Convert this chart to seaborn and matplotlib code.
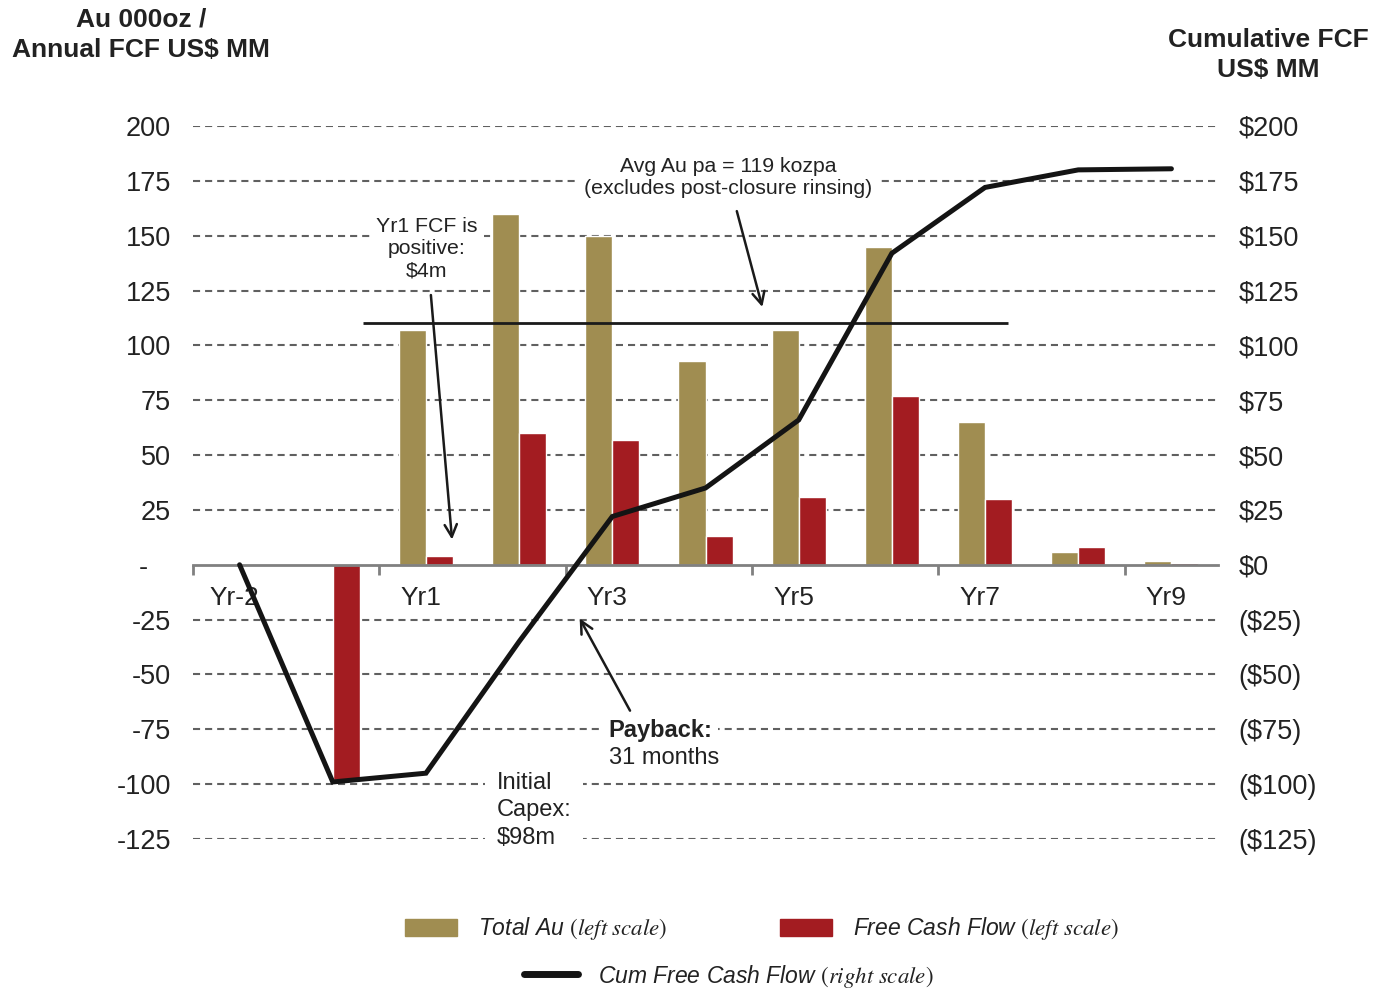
import numpy as np
import pandas as pd
import matplotlib
matplotlib.use("Agg")
import matplotlib.pyplot as plt
import matplotlib.transforms as mtransforms
from matplotlib.patches import Patch
from matplotlib.lines import Line2D
import seaborn as sns

# ---- data -------------------------------------------------------------
years = ["Yr-2", "Yr-1", "Yr1", "Yr2", "Yr3", "Yr4", "Yr5", "Yr6", "Yr7", "Yr8", "Yr9"]
total_au = [np.nan, np.nan, 107, 160, 150, 93, 107, 145, 65, 6, 1.5]      # Au 000oz
free_cash_flow = [np.nan, -98, 4, 60, 57, 13, 31, 77, 30, 8, 1]          # US$ MM
cum_fcf = [0, -99, -95, -35, 22, 35, 66, 142, 172, 180, 180.5]            # US$ MM
avg_au_line = 110
left_ticks = [-125, -100, -75, -50, -25, 0, 25, 50, 75, 100, 125, 150, 175, 200]
left_labels = ["-125", "-100", "-75", "-50", "-25", "-   ", "25", "50", "75", "100",
               "125", "150", "175", "200"]
right_labels = ["($125)", "($100)", "($75)", "($50)", "($25)", "\\$0", "\\$25", "\\$50",
                "\\$75", "\\$100", "\\$125", "\\$150", "\\$175", "\\$200"]
shown_years = ["Yr-2", "Yr1", "Yr3", "Yr5", "Yr7", "Yr9"]

OLIVE = "#A08D51"
RED = "#A31C21"
GRID = "#606060"
AXIS = "#808080"
TEXT = "#222222"

sns.set_theme(style="white")
plt.rcParams["font.family"] = ["Liberation Sans", "DejaVu Sans"]
plt.rcParams["mathtext.fontset"] = "stix"

df = pd.DataFrame({
    "year": years * 2,
    "value": total_au + free_cash_flow,
    "series": ["Total Au"] * len(years) + ["Free Cash Flow"] * len(years),
})

fig = plt.figure(figsize=(13.89, 9.90), dpi=100)
ax = fig.add_axes([193 / 1389, 151 / 990, 1025 / 1389, 713 / 990])

sns.barplot(data=df, x="year", y="value", hue="series", order=years,
            hue_order=["Total Au", "Free Cash Flow"],
            palette={"Total Au": OLIVE, "Free Cash Flow": RED},
            width=0.58, gap=0, saturation=1, legend=False, ax=ax, zorder=2)

ax.set_xlim(-0.5, len(years) - 0.5)
ax.set_ylim(-125, 200)
ax.set_xlabel("")
ax.set_ylabel("")

# dashed gridlines at every 25 except the zero line
for v in left_ticks:
    if v != 0:
        ax.axhline(v, color=GRID, lw=1.5, linestyle=(0, (3.4, 2.4)), zorder=0.5)

for s in ["top", "right", "left"]:
    ax.spines[s].set_visible(False)
ax.spines["bottom"].set_position(("data", 0))
ax.spines["bottom"].set_color(AXIS)
ax.spines["bottom"].set_linewidth(2.0)
ax.spines["bottom"].set_zorder(3)

# x axis: boundary tick marks every two years, labels on alternate year centres
ax.set_xticks(np.arange(-0.5, len(years) - 1, 2))
ax.set_xticklabels([])
ax.tick_params(axis="x", which="major", direction="out", length=7, width=2.0, color=AXIS,
               bottom=True)
ax.set_xticks([years.index(y) for y in shown_years], minor=True)
ax.set_xticklabels(shown_years, minor=True, fontsize=19, color=TEXT)
ax.tick_params(axis="x", which="minor", length=0, pad=15)
shift = mtransforms.ScaledTranslation(-5 / 100, 0, fig.dpi_scale_trans)
for lbl in ax.get_xticklabels(minor=True):
    lbl.set_transform(lbl.get_transform() + shift)

ax.set_yticks(left_ticks)
ax.set_yticklabels(left_labels, fontsize=19.5, color=TEXT)
ax.tick_params(axis="y", length=0, pad=16, left=False)

# average gold production reference line
ax.hlines(avg_au_line, 1.32, 8.25, color="#1a1a1a", lw=2.0, zorder=3)

# right axis: cumulative free cash flow
ax2 = ax.twinx()
ax2.set_ylim(ax.get_ylim())
ax2.set_xlim(ax.get_xlim())
sns.lineplot(x=np.arange(len(years)), y=cum_fcf, color="#141414", lw=3.6, ax=ax2,
             solid_joinstyle="miter")
for s in ax2.spines.values():
    s.set_visible(False)
ax2.set_yticks(left_ticks)
ax2.set_yticklabels(right_labels, fontsize=19.5, color=TEXT)
ax2.tick_params(axis="y", length=0, pad=15, right=False)
ax2.set_ylabel("")

# annotations
box = dict(boxstyle="square,pad=0.3", fc="white", ec="none")
arrow = dict(arrowstyle="->", color="#1a1a1a", lw=1.8, mutation_scale=22)

ax.annotate("Avg Au pa = 119 kozpa\n(excludes post-closure rinsing)",
            xy=(5.61, 117.5), xytext=(5.24, 176.5), ha="center", va="center",
            fontsize=15.3, color=TEXT, linespacing=1.2, bbox=box,
            arrowprops=dict(arrow, shrinkA=5, shrinkB=0), zorder=4)

ax.annotate("Yr1 FCF is\npositive:\n$4m".replace("$", "\\$"),
            xy=(2.28, 11.5), xytext=(2.01, 144), ha="center", va="center",
            fontsize=15.3, color=TEXT, linespacing=1.2, bbox=box,
            arrowprops=dict(arrow, shrinkA=6, shrinkB=0), zorder=4)

ax.text(3.96, -75.5, "Payback:", ha="left", va="center", fontsize=17,
        fontweight="bold", color=TEXT, zorder=4,
        bbox=dict(boxstyle="square,pad=0.25", fc="white", ec="none"))
ax.text(3.96, -88, "31 months", ha="left", va="center", fontsize=17,
        color=TEXT, zorder=4)
ax.annotate("", xy=(3.65, -24.5), xytext=(4.19, -66.5),
            arrowprops=dict(arrow, shrinkA=0, shrinkB=0), zorder=4)

ax.text(2.76, -112, "Initial\nCapex:\n\\$98m", ha="left", va="center", fontsize=17,
        color=TEXT, linespacing=1.32, zorder=4,
        bbox=dict(boxstyle="square,pad=0.5", fc="white", ec="none"))

# axis titles
fig.text(141 / 1389, 1 - 35 / 990, "Au 000oz /\nAnnual FCF US\\$ MM", ha="center",
         va="center", fontsize=19, fontweight="bold", color=TEXT, linespacing=1.32)
fig.text(1268 / 1389, 1 - 55 / 990, "Cumulative FCF\nUS\\$ MM", ha="center",
         va="center", fontsize=19, fontweight="bold", color=TEXT, linespacing=1.32)

# legend
lab_au = "Total Au $\\mathit{(left\\ scale)}$"
lab_fcf = "Free Cash Flow $\\mathit{(left\\ scale)}$"
lab_cum = "Cum Free Cash Flow $\\mathit{(right\\ scale)}$"
leg_font = dict(size=16.5, style="italic")
fig.legend(handles=[Patch(color=OLIVE), Patch(color=RED)], labels=[lab_au, lab_fcf],
           loc="center", bbox_to_anchor=(762 / 1389, 1 - 929 / 990), ncol=2,
           frameon=False, prop=leg_font, handlelength=2.27, handleheight=0.7,
           handletextpad=0.92, columnspacing=4.9, labelcolor=TEXT)
fig.legend(handles=[Line2D([], [], color="#141414", lw=5)], labels=[lab_cum],
           loc="center", bbox_to_anchor=(729 / 1389, 1 - 976 / 990),
           frameon=False, prop=leg_font, handlelength=2.36, handletextpad=0.88,
           labelcolor=TEXT)

fig.savefig("out.png", dpi=100)
